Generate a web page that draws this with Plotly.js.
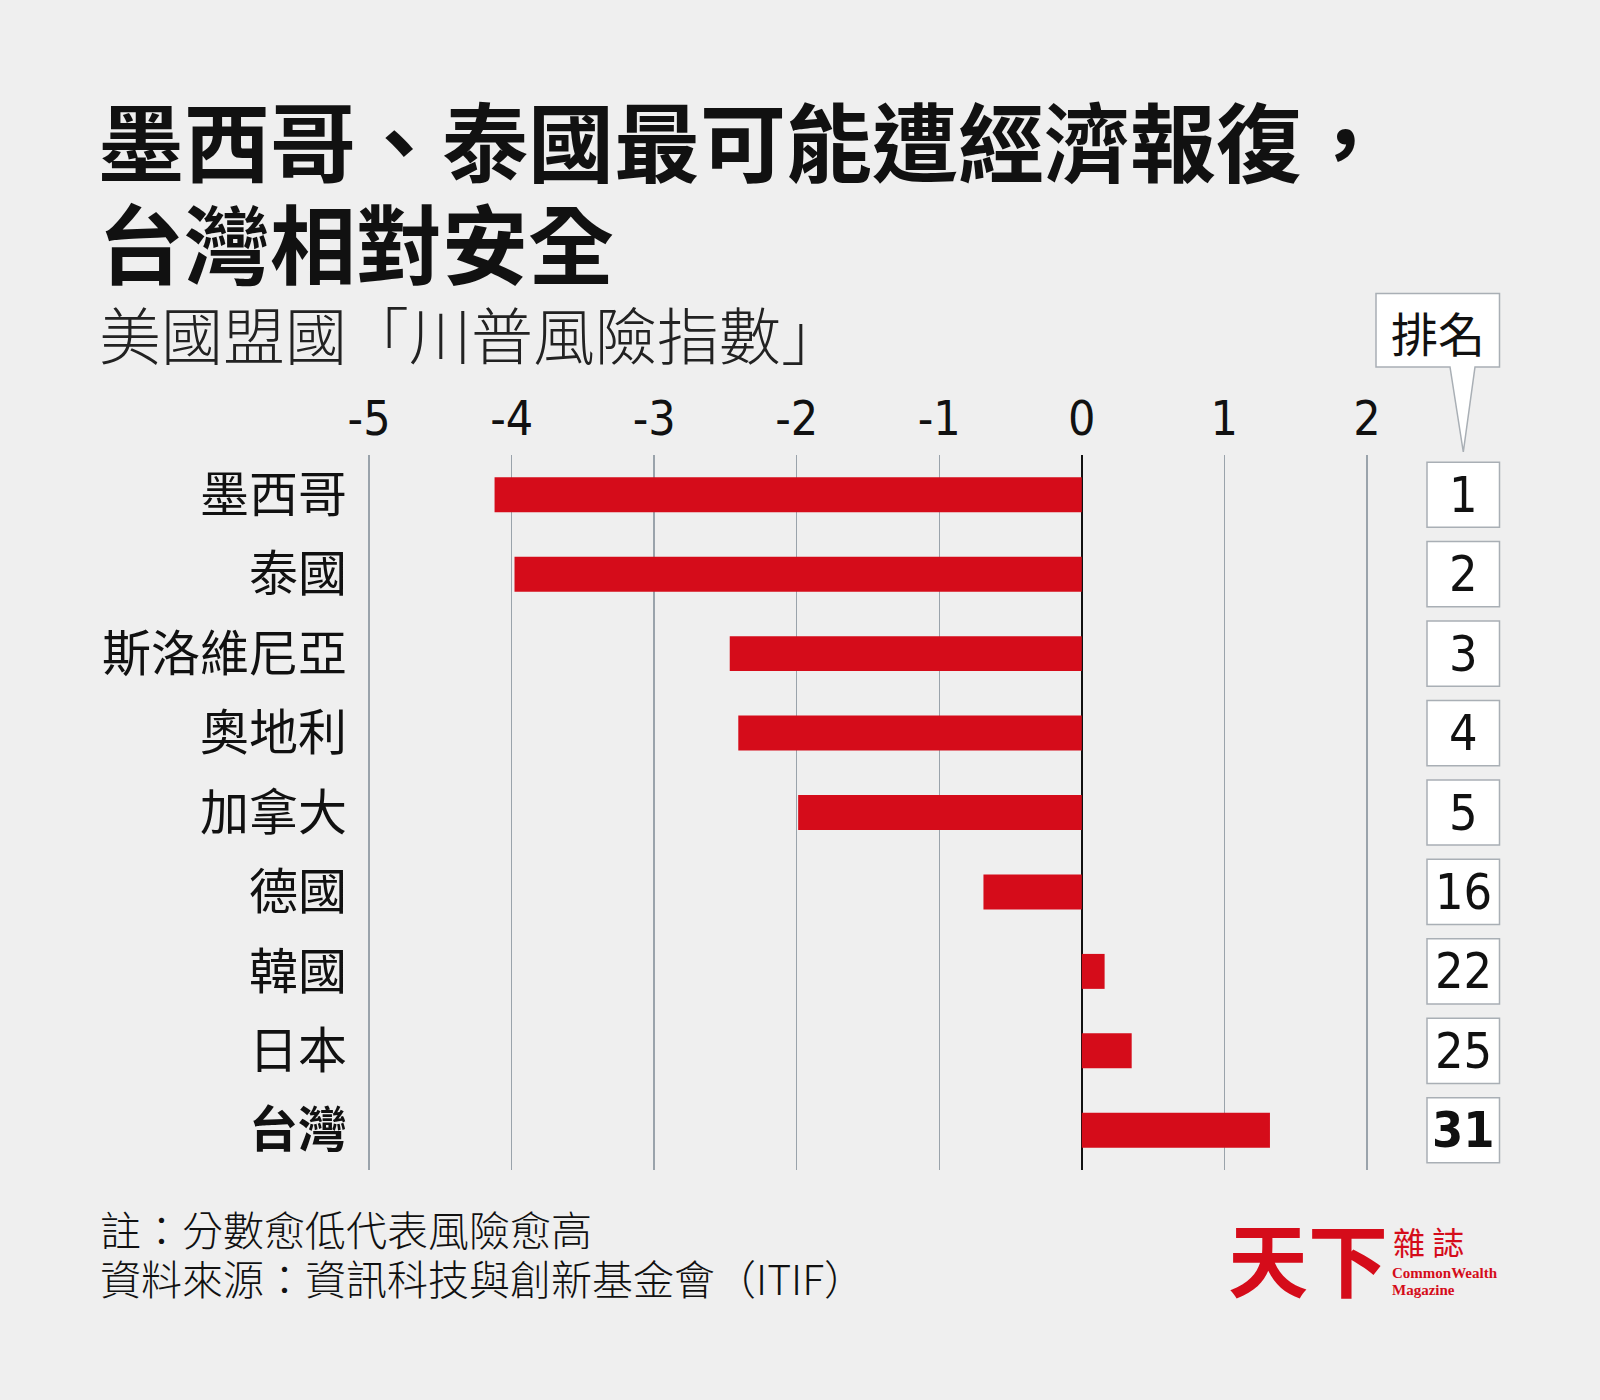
<!DOCTYPE html>
<html>
<head>
<meta charset="utf-8">
<script src="https://cdn.plot.ly/plotly-3.0.1.min.js"></script>
<style>
  html, body { margin: 0; padding: 0; background: #efefef; }
  #chart { width: 1600px; height: 1400px; }
</style>
</head>
<body>
<div id="chart"></div>
<script>
// Chart data
const countries = ["墨西哥", "泰國", "斯洛維尼亞", "奧地利", "加拿大", "德國", "韓國", "日本", "台灣"];
const riskIndex = [-4.12, -3.98, -2.47, -2.41, -1.99, -0.69, 0.16, 0.35, 1.32];
const ranks = [1, 2, 3, 4, 5, 16, 22, 25, 31];
const xTickVals = [-5, -4, -3, -2, -1, 0, 1, 2];
const xTickText = ["-5", "-4", "-3", "-2", "-1", "0", "1", "2"];
const highlight = "台灣";

// Plot area in pixels, used to place the decoration around it
const L = 362, T = 455, PW = 1012, PH = 715;
const px = x => (x - L) / PW;
const py = y => (T + PH - y) / PH;

const cjk = '"Noto Sans CJK TC", "Noto Sans CJK SC", sans-serif';
const narrow = '"Liberation Sans Narrow", "DejaVu Sans Condensed", Roboto, sans-serif';
const red = '#d50c1a';
const ink = '#111111';

const trace = {
    type: 'bar',
    orientation: 'h',
    y: countries,
    x: riskIndex,
    width: 0.44,
    marker: { color: red },
    hoverinfo: 'y+x'
};

// Rank boxes on the right, one per country
const shapes = countries.map((c, i) => ({
    type: 'rect',
    xref: 'paper', yref: 'y',
    x0: px(1427), x1: px(1499.5),
    y0: i - 0.41, y1: i + 0.41,
    fillcolor: '#ffffff',
    line: { color: '#a9afb5', width: 1.5 },
    layer: 'below'
}));

// "排名" callout with pointer
shapes.push({
    type: 'path',
    xref: 'paper', yref: 'paper',
    path: `M ${px(1376)},${py(293.5)} L ${px(1499.5)},${py(293.5)} L ${px(1499.5)},${py(367)} ` +
          `L ${px(1475)},${py(367)} L ${px(1463.3)},${py(452)} L ${px(1450)},${py(367)} ` +
          `L ${px(1376)},${py(367)} Z`,
    fillcolor: '#ffffff',
    line: { color: '#a9afb5', width: 1.5 }
});

const annotations = countries.map((c, i) => ({
    xref: 'paper', yref: 'y',
    x: px(1463), y: c,
    text: c === highlight ? `<b>${ranks[i]}</b>` : String(ranks[i]),
    showarrow: false,
    xanchor: 'center', yanchor: 'middle',
    font: { family: narrow, size: 50, color: ink }
}));

function note(text, x, y, size, opts) {
    return Object.assign({
        xref: 'paper', yref: 'paper',
        x: px(x), y: py(y),
        text: text,
        showarrow: false,
        xanchor: 'left', yanchor: 'middle',
        font: { family: cjk, size: size, color: ink }
    }, opts || {});
}

const light = (size, color) => ({ family: cjk, size: size, color: color || ink, weight: 300 });

annotations.push(
    note('<b>墨西哥、泰國最可能遭經濟報復，</b>', 96, 139, 86),
    note('<b>台灣相對安全</b>', 96, 240, 86),
    note('美國盟國「川普風險指數」', 97, 333, 62, { font: light(62, '#222') }),
    note('排名', 1437.5, 331, 47, { xanchor: 'center' }),
    note('註：分數愈低代表風險愈高', 98, 1228, 41, { font: light(41) }),
    note('資料來源：資訊科技與創新基金會（ITIF）', 98, 1277, 41, { font: light(41) }),
    note('<b>天下</b>', 1308, 1256, 80, { xanchor: 'center', font: { family: cjk, size: 80, color: red, weight: 900 } }),
    note('雜 誌', 1428, 1241, 32, { xanchor: 'center', font: { family: cjk, size: 32, color: red } }),
    note('<b>CommonWealth</b>', 1390, 1273, 15, { font: { family: '"Liberation Serif", serif', size: 15, color: red } }),
    note('<b>Magazine</b>', 1390, 1290, 15, { font: { family: '"Liberation Serif", serif', size: 15, color: red } })
);

const layout = {
    width: 1600,
    height: 1400,
    paper_bgcolor: '#efefef',
    plot_bgcolor: '#efefef',
    margin: { l: L, r: 1600 - L - PW, t: T, b: 1400 - T - PH, pad: 0 },
    showlegend: false,
    bargap: 0.56,
    xaxis: {
        side: 'top',
        range: [-5.05, 2.05],
        tickmode: 'array',
        tickvals: xTickVals,
        ticktext: xTickText,
        ticks: '',
        ticklabelstandoff: 9,
        tickfont: { family: narrow, size: 48, color: ink },
        showgrid: true,
        gridcolor: '#9aa3ab',
        gridwidth: 1.5,
        zeroline: true,
        zerolinecolor: ink,
        zerolinewidth: 1.5,
        showline: false,
        fixedrange: true
    },
    yaxis: {
        type: 'category',
        categoryorder: 'array',
        categoryarray: countries,
        autorange: 'reversed',
        tickmode: 'array',
        tickvals: countries,
        ticktext: countries.map(c => c === highlight ? `<b>${c}</b>` : c),
        ticks: '',
        ticklabelstandoff: 14,
        tickfont: { family: cjk, size: 49, color: ink },
        showgrid: false,
        zeroline: false,
        showline: false,
        fixedrange: true
    },
    shapes: shapes,
    annotations: annotations
};

Plotly.newPlot('chart', [trace], layout, { displayModeBar: false, staticPlot: true });
</script>
</body>
</html>
